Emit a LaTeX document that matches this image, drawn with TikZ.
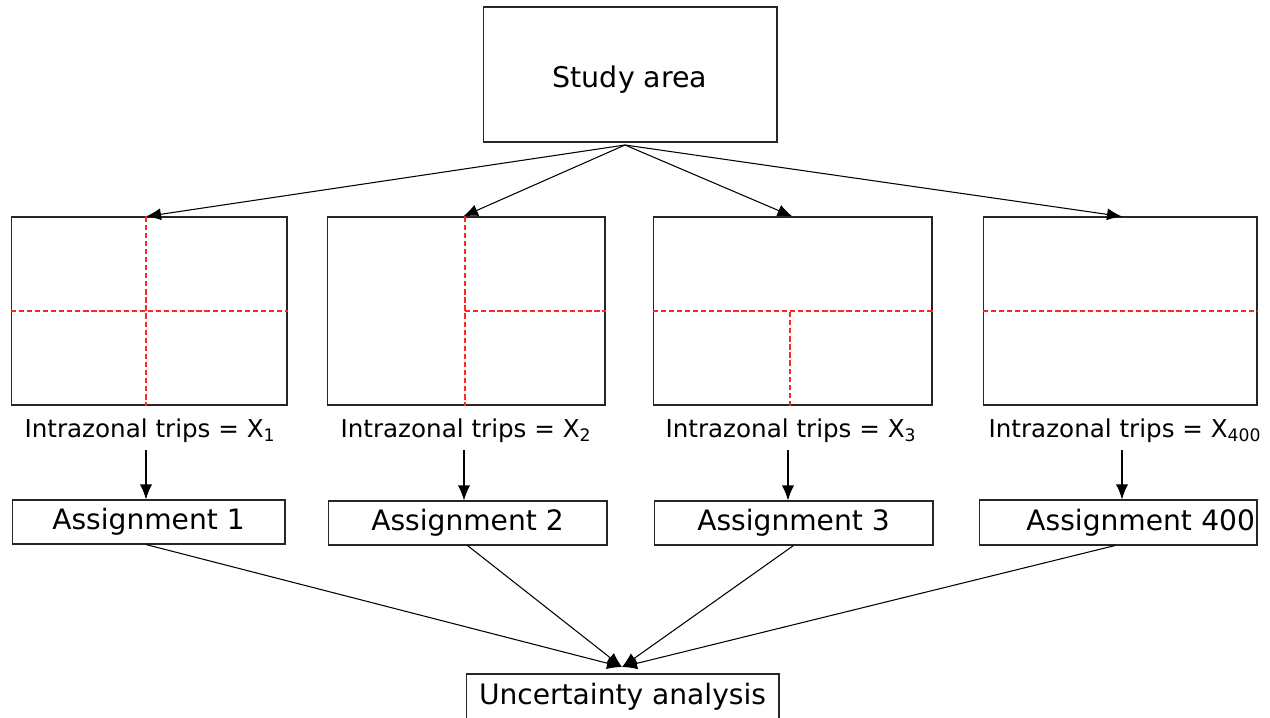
\documentclass[tikz,border=0pt]{standalone}
\usepackage{fontspec}
\setmainfont{DejaVu Sans}
\usetikzlibrary{arrows.meta}
\tikzset{
  box/.style={draw=black!85,line width=0.6pt,inner sep=0pt},
  zone/.style={box,minimum height=3.76cm},
  assign/.style={box,minimum height=0.88cm,font=\fontsize{16}{18}\selectfont},
  trips/.style={inner sep=1pt,font=\fontsize{14}{16}\selectfont},
  cut/.style={red!85!white,line width=0.6pt,dash pattern=on 3pt off 1.6pt},
}
\begin{document}
\begin{tikzpicture}[x=0.02cm,y=-0.02cm,line width=0.6pt,>={Latex[length=0.3cm,width=0.24cm]}]
\useasboundingbox (0,0) rectangle (1270,717);

\node[box,minimum width=5.88cm,minimum height=2.7cm,text height=0.53cm,text depth=0pt,font=\fontsize{16.2}{20}\selectfont] (study) at (630,74.5) {Study area};
\coordinate (fork) at (625,145);

% the four zonings
\node[zone,minimum width=5.52cm] (z1) at (149,311) {};
\node[zone,minimum width=5.56cm] (z2) at (466,311) {};
\node[zone,minimum width=5.58cm] (z3) at (792.5,311) {};
\node[zone,minimum width=5.48cm] (z4) at (1120,311) {};

\draw[cut] (z1.west) -- (z1.east);
\draw[cut] (z1.north -| 146,0) -- (z1.south -| 146,0);
\draw[cut] (z2.north -| 465,0) -- (z2.south -| 465,0);
\draw[cut] (465,311) -- (z2.east);
\draw[cut] (z3.west) -- (z3.east);
\draw[cut] (790,312) -- (z3.south -| 790,0);
\draw[cut] (z4.west) -- (z4.east);

\draw[->] (fork) -- (z1.north -| 146,0);
\draw[->] (fork) -- (z2.north -| 463,0);
\draw[->] (fork) -- (z3.north);
\draw[->] (fork) -- (z4.north -| 1122,0);

\node[trips] (t1) at (150,431) {Intrazonal trips = X\textsubscript{1}};
\node[trips] (t2) at (466,431) {Intrazonal trips = X\textsubscript{2}};
\node[trips] (t3) at (791,431) {Intrazonal trips = X\textsubscript{3}};
\node[trips] (t4) at (1125,431) {Intrazonal trips = X\textsubscript{400}};

\node[assign,minimum width=5.46cm] (a1) at (148.5,522) {Assignment 1};
\node[assign,minimum width=5.58cm] (a2) at (467.5,523) {Assignment 2};
\node[assign,minimum width=5.58cm] (a3) at (793.5,523) {Assignment 3};
\node[assign,text width=5.48cm,align=right,inner xsep=0.04cm,minimum height=0.9cm] (a4) at (1118,522.5) {Assignment 400};

\draw[->,shorten <=3pt] (t1.south -| 146,0) -- (a1.north -| 146,0);
\draw[->,shorten <=3pt] (t2.south -| 464,0) -- (a2.north -| 464,0);
\draw[->,shorten <=3pt] (t3.south -| 788,0) -- (a3.north -| 788,0);
\draw[->,shorten <=3pt] (t4.south -| 1122,0) -- (a4.north -| 1122,0);

\node[box,minimum width=6.26cm,minimum height=0.92cm,font=\fontsize{16}{18}\selectfont] (ua) at (622.5,697) {Uncertainty analysis};
\coordinate (join) at (622,667);

\draw[->] (a1.south -| 146,0) -- (join);
\draw[->] (a2.south) -- (join);
\draw[->] (a3.south) -- (join);
\draw[->] (a4.south -| 1115,0) -- (join);

\end{tikzpicture}
\end{document}
